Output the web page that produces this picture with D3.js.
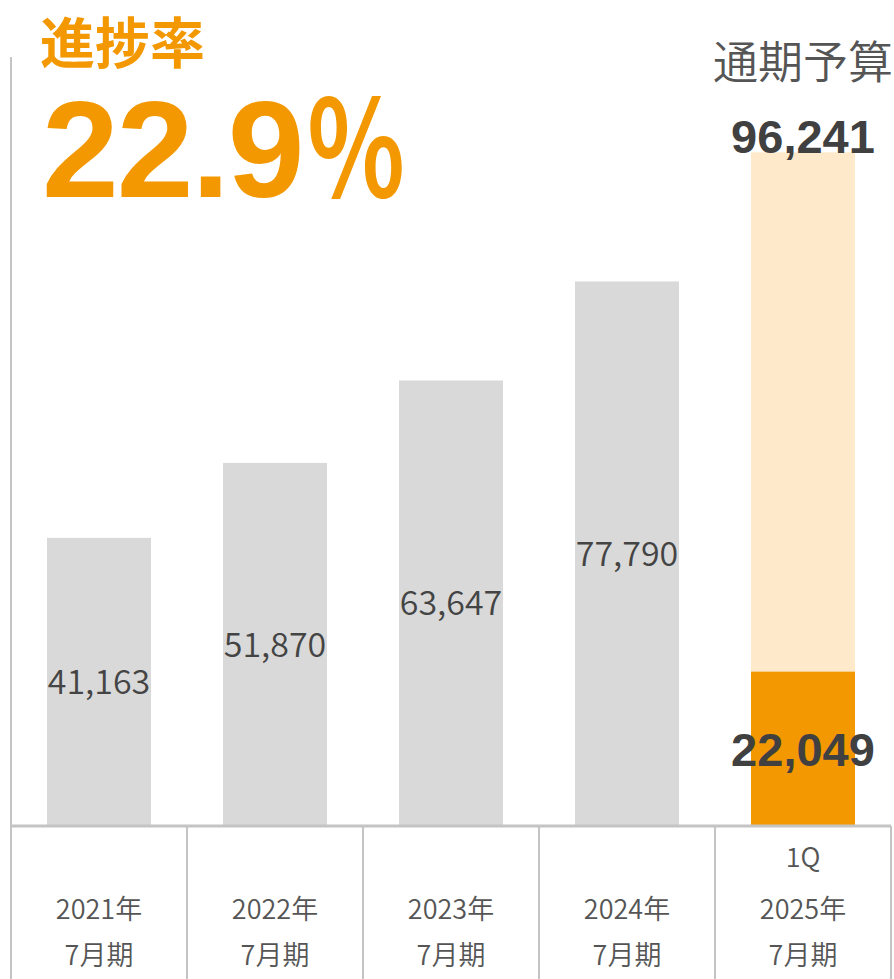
<!DOCTYPE html>
<html>
<head>
<meta charset="utf-8">
<script src="https://cdn.jsdelivr.net/npm/d3@7"></script>
<style>
  html, body { margin: 0; padding: 0; background: #fff; }
  svg { display: block; }
</style>
</head>
<body>
<svg id="chart" width="894" height="979"></svg>
<script>
// data
const years = ['2021年', '2022年', '2023年', '2024年', '2025年'];
const periodLabel = ['7月期', '7月期', '7月期', '7月期', '7月期'];
const topLabel = ['', '', '', '', '1Q'];
const values = [41163, 51870, 63647, 77790, 22049];
const budget = 96241;

const W = 894, H = 979;
const left = 11, right = 891, baseY = 826;
const barW = 104;

const svg = d3.select('#chart');

const x = d3.scaleBand().domain(years).range([left, right]).padding(0);
const y = d3.scaleLinear().domain([0, 100000]).range([baseY, 126]);
const fmt = d3.format(',');
const last = years[years.length - 1];
const barX = d => x(d) + (x.bandwidth() - barW) / 2;

// budget bar (background) for the current year
svg.append('rect')
  .attr('x', barX(last))
  .attr('y', y(budget))
  .attr('width', barW)
  .attr('height', baseY - y(budget))
  .attr('fill', '#fee9cb');

// result bars
svg.append('g')
  .selectAll('rect')
  .data(years)
  .join('rect')
  .attr('x', d => barX(d))
  .attr('y', (d, i) => y(values[i]))
  .attr('width', barW)
  .attr('height', (d, i) => baseY - y(values[i]))
  .attr('fill', d => d === last ? '#f39800' : '#d9d9d9');

// value labels for past years (middle of bar)
svg.append('g')
  .selectAll('text')
  .data(years.slice(0, -1))
  .join('text')
  .attr('x', d => x(d) + x.bandwidth() / 2)
  .attr('y', (d, i) => (y(values[i]) + baseY) / 2)
  .attr('dy', '0.36em')
  .attr('text-anchor', 'middle')
  .attr('font-family', '"Noto Sans CJK JP", sans-serif')
  .attr('font-weight', 350)
  .attr('font-size', 34)
  .attr('fill', '#444')
  .text((d, i) => fmt(values[i]));

// current year labels (bold)
const cx = x(last) + x.bandwidth() / 2;
svg.append('text')
  .attr('x', cx)
  .attr('y', (y(values[4]) + baseY) / 2)
  .attr('dy', '0.36em')
  .attr('text-anchor', 'middle')
  .attr('font-family', '"Liberation Sans", Arial, sans-serif')
  .attr('font-weight', 'bold')
  .attr('font-size', 47)
  .attr('fill', '#404040')
  .text(fmt(values[4]));

svg.append('text')
  .attr('x', cx)
  .attr('y', y(budget) - 16)
  .attr('dy', '0.36em')
  .attr('text-anchor', 'middle')
  .attr('font-family', '"Liberation Sans", Arial, sans-serif')
  .attr('font-weight', 'bold')
  .attr('font-size', 47)
  .attr('fill', '#404040')
  .text(fmt(budget));

svg.append('text')
  .attr('x', 893)
  .attr('y', 63)
  .attr('dy', '0.36em')
  .attr('text-anchor', 'end')
  .attr('font-family', '"Noto Sans CJK JP", sans-serif')
  .attr('font-weight', 350)
  .attr('font-size', 45)
  .attr('fill', '#555')
  .text('通期予算');

// axis lines / table
const lineColor = '#c4c4c4';
svg.append('line')
  .attr('x1', left).attr('x2', left)
  .attr('y1', 57).attr('y2', H)
  .attr('stroke', lineColor).attr('stroke-width', 2);

svg.append('line')
  .attr('x1', left).attr('x2', right)
  .attr('y1', baseY).attr('y2', baseY)
  .attr('stroke', lineColor).attr('stroke-width', 3);

svg.append('g')
  .selectAll('line')
  .data(years.concat(['end']))
  .join('line')
  .attr('x1', d => d === 'end' ? right : x(d))
  .attr('x2', d => d === 'end' ? right : x(d))
  .attr('y1', baseY)
  .attr('y2', H)
  .attr('stroke', lineColor)
  .attr('stroke-width', 2);

// category labels
const cat = svg.append('g')
  .attr('font-family', '"Noto Sans CJK JP", sans-serif')
  .attr('font-weight', 350)
  .attr('font-size', 27)
  .attr('fill', '#555')
  .attr('text-anchor', 'middle');

cat.selectAll('text.yr')
  .data(years)
  .join('text')
  .attr('class', 'yr')
  .attr('x', d => x(d) + x.bandwidth() / 2)
  .attr('y', 909)
  .attr('dy', '0.36em')
  .text(d => d);

cat.selectAll('text.pd')
  .data(years)
  .join('text')
  .attr('class', 'pd')
  .attr('x', d => x(d) + x.bandwidth() / 2)
  .attr('y', 955)
  .attr('dy', '0.36em')
  .text((d, i) => periodLabel[i]);

cat.selectAll('text.tp')
  .data(years.filter((d, i) => topLabel[i]))
  .join('text')
  .attr('class', 'tp')
  .attr('x', d => x(d) + x.bandwidth() / 2)
  .attr('y', 857)
  .attr('dy', '0.36em')
  .text(d => topLabel[years.indexOf(d)]);

// progress headline
const rate = values[4] / budget * 100;
svg.append('text')
  .attr('x', 40)
  .attr('y', 43)
  .attr('dy', '0.36em')
  .attr('font-family', '"Noto Sans CJK JP", sans-serif')
  .attr('font-weight', 'bold')
  .attr('font-size', 55)
  .attr('fill', '#f39800')
  .text('進捗率');

svg.append('text')
  .attr('x', 42)
  .attr('y', 197)
  .attr('font-family', '"Liberation Sans", Arial, sans-serif')
  .attr('font-weight', 'bold')
  .attr('font-size', 138)
  .attr('letter-spacing', -2)
  .attr('fill', '#f39800')
  .text(d3.format('.1f')(rate));

svg.append('text')
  .attr('transform', 'translate(356,198) scale(0.76,1)')
  .attr('text-anchor', 'middle')
  .attr('font-family', '"Noto Sans CJK JP", sans-serif')
  .attr('font-weight', 'bold')
  .attr('font-size', 133)
  .attr('fill', '#f39800')
  .text('％');
</script>
</body>
</html>
